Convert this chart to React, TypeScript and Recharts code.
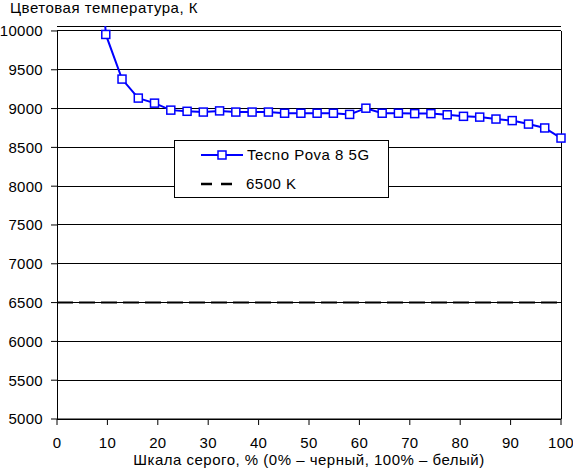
import { CartesianGrid, Line, LineChart, ReferenceLine, XAxis, YAxis } from "recharts";

// gray level, % (steps of 1/31) and measured color temperature, K
const grayLevels = [
  6.45, 9.68, 12.9, 16.13, 19.35, 22.58, 25.81, 29.03, 32.26, 35.48, 38.71, 41.94, 45.16, 48.39, 51.61,
  54.84, 58.06, 61.29, 64.52, 67.74, 70.97, 74.19, 77.42, 80.65, 83.87, 87.1, 90.32, 93.55, 96.77, 100,
];
const colorTemp = [
  13500, 9955, 9380, 9135, 9070, 8980, 8965, 8955, 8970, 8955, 8955, 8955, 8940, 8940, 8940,
  8940, 8925, 9005, 8940, 8940, 8935, 8935, 8920, 8900, 8890, 8865, 8845, 8800, 8750, 8620,
];
const xTicks = [0, 10, 20, 30, 40, 50, 60, 70, 80, 90, 100];
const yTicks = [5000, 5500, 6000, 6500, 7000, 7500, 8000, 8500, 9000, 9500, 10000];
const referenceTemp = 6500;
const seriesName = "Tecno Pova 8 5G";
const referenceName = "6500 K";

const FONT = "'Liberation Sans', Arial, sans-serif";
const BLUE = "#0000ff";

const data = grayLevels.map((x, i) => ({ x, temp: colorTemp[i] }));

function SquareDot(props: any) {
  const { cx, cy, index } = props;
  if (cx == null || cy == null) return null;
  return (
    <rect key={index} x={cx - 4} y={cy - 4} width={8} height={8} fill="#fff" stroke={BLUE} strokeWidth={1.5} />
  );
}

const tickStyle = { fontSize: 15, fill: "#000", fontFamily: FONT, letterSpacing: 0.3 };
const textStyle = { fontSize: 15, lineHeight: "15px", letterSpacing: 0.5, color: "#000", whiteSpace: "nowrap" as const };

export default function App() {
  return (
    <div style={{ position: "absolute", left: 0, top: 0, width: 573, height: 469, background: "#fff", fontFamily: FONT }}>
      <div style={{ ...textStyle, position: "absolute", left: 10, top: 0 }}>Цветовая температура, К</div>
      <LineChart width={573} height={469} data={data} margin={{ top: 26, right: 12, bottom: 0, left: 0 }}>
        <CartesianGrid vertical={false} stroke="#000" strokeOpacity={1} shapeRendering="crispEdges" />
        <XAxis
          dataKey="x"
          type="number"
          domain={[0, 100]}
          ticks={xTicks}
          interval={0}
          height={50}
          axisLine={{ stroke: "#000" }}
          tickLine={{ stroke: "#000" }}
          tickSize={6}
          tickMargin={12}
          tick={tickStyle}
        />
        <YAxis
          type="number"
          width={57}
          domain={[5000, 10064]}
          allowDataOverflow
          ticks={yTicks}
          interval={0}
          axisLine={false}
          tickLine={{ stroke: "#000" }}
          tickSize={6}
          tickMargin={8}
          tick={tickStyle}
        />
        <ReferenceLine segment={[{ x: 0, y: 5000 }, { x: 0, y: 10000 }]} stroke="#000" shapeRendering="crispEdges" />
        <ReferenceLine segment={[{ x: 100, y: 5000 }, { x: 100, y: 10000 }]} stroke="#000" shapeRendering="crispEdges" />
        <ReferenceLine y={referenceTemp} stroke="#000" strokeWidth={2} strokeDasharray="16 6" />
        <Line
          dataKey="temp"
          type="linear"
          stroke={BLUE}
          strokeWidth={2}
          dot={SquareDot}
          activeDot={false}
          isAnimationActive={false}
        />
      </LineChart>
      <div style={{ ...textStyle, position: "absolute", left: 57, width: 504, top: 452, textAlign: "center" }}>
        Шкала серого, % (0% – черный, 100% – белый)
      </div>
      <div
        style={{
          position: "absolute",
          left: 174,
          top: 140,
          width: 213,
          height: 56,
          border: "1px solid #000",
          background: "#fff",
        }}
      >
        <svg width={50} height={56} style={{ position: "absolute", left: 25, top: 0 }}>
          <line x1={1} y1={14} x2={43} y2={14} stroke={BLUE} strokeWidth={2} />
          <rect x={18} y={10} width={8} height={8} fill="#fff" stroke={BLUE} strokeWidth={1.5} />
          <line x1={1} y1={43} x2={36} y2={43} stroke="#000" strokeWidth={2.5} strokeDasharray="11 9" />
        </svg>
        <div style={{ ...textStyle, position: "absolute", left: 72, top: 6 }}>{seriesName}</div>
        <div style={{ ...textStyle, position: "absolute", left: 71, top: 35 }}>{referenceName}</div>
      </div>
    </div>
  );
}
